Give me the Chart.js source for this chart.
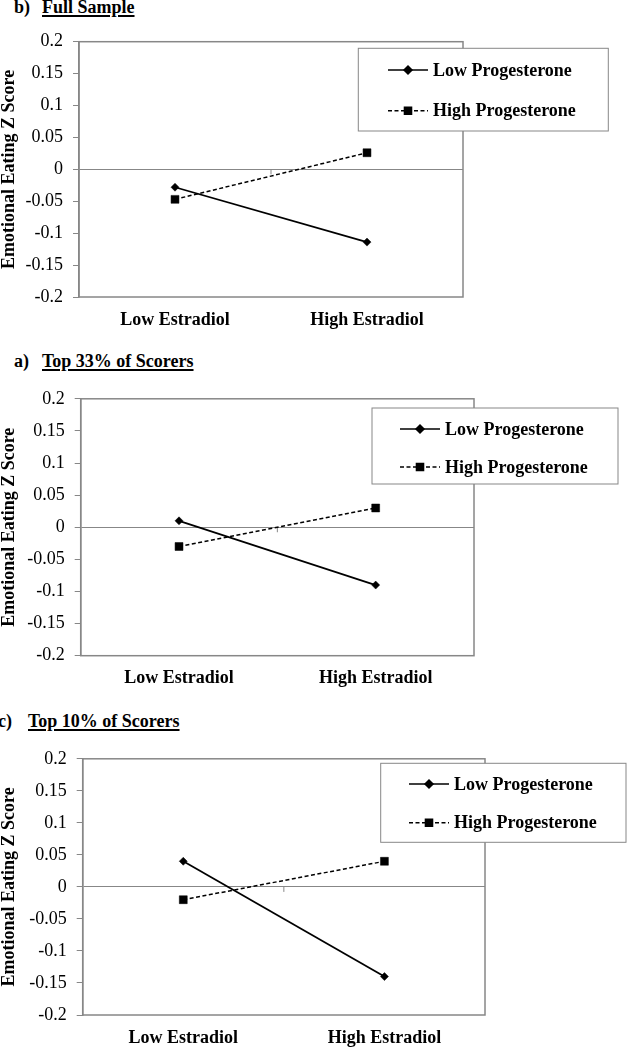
<!DOCTYPE html>
<html>
<head>
<meta charset="utf-8">
<script src="https://cdn.jsdelivr.net/npm/chart.js@4.4.1/dist/chart.umd.min.js"></script>
<style>
  body { margin: 0; background: #fff; width: 627px; height: 1048px; position: relative; overflow: hidden;
         font-family: "Liberation Serif", "Times New Roman", serif; }
  .panel { position: absolute; left: 0; }
  .title { position: absolute; font-weight: bold; font-size: 18px; line-height: 20px; white-space: nowrap; color: #000; }
  .title u { text-decoration-thickness: 1.5px; text-underline-offset: 2px; }
</style>
</head>
<body>
<script>
const CATEGORIES = ['Low Estradiol', 'High Estradiol'];
const SERIES_NAMES = ['Low Progesterone', 'High Progesterone'];
const Y_TICKS = [0.2, 0.15, 0.1, 0.05, 0, -0.05, -0.1, -0.15, -0.2];

// b) Full Sample
const FULL_LOW_PROG = [-0.028, -0.114];
const FULL_HIGH_PROG = [-0.047, 0.026];
// a) Top 33%
const TOP33_LOW_PROG = [0.01, -0.09];
const TOP33_HIGH_PROG = [-0.03, 0.03];
// c) Top 10%
const TOP10_LOW_PROG = [0.04, -0.14];
const TOP10_HIGH_PROG = [-0.02, 0.04];

const GRIS = '#878787';
const FONT = '"Liberation Serif", "Times New Roman", serif';
const W = 627;
const X_AXIS_H = 40;

const PANELS = [
  {
    tag: 'b)', titre: 'Full Sample', low: FULL_LOW_PROG, high: FULL_HIGH_PROG,
    tagX: 14, titreX: 42, titreTop: -3,
    top: 20, h: 330, plot: { l: 79, r: 463, t: 41.7, b: 297 }, catPad: 12.9,
    legende: { x: 358.3, y: 48.3, w: 250, h: 82.7, rows: [70, 110.7], lineX: 388 },
  },
  {
    tag: 'a)', titre: 'Top 33% of Scorers', low: TOP33_LOW_PROG, high: TOP33_HIGH_PROG,
    tagX: 14, titreX: 42, titreTop: 351,
    top: 378, h: 330, plot: { l: 80.7, r: 474, t: 395, b: 655.7 }, catPad: 11.5,
    legende: { x: 372, y: 408, w: 246, h: 76, rows: [429, 467], lineX: 400 },
  },
  {
    tag: 'c)', titre: 'Top 10% of Scorers', low: TOP10_LOW_PROG, high: TOP10_HIGH_PROG,
    tagX: -2, titreX: 28, titreTop: 711,
    top: 738, h: 310, plot: { l: 82.7, r: 485, t: 756, b: 1015 }, catPad: 12.2,
    legende: { x: 380.7, y: 763.3, w: 245.3, h: 79, rows: [784, 822.7], lineX: 409 },
  },
];

// cadre gris, ligne du zéro et petite graduation au centre
const cadrePlugin = {
  id: 'cadre',
  beforeDatasetsDraw(chart) {
    const { ctx, chartArea: a, scales } = chart;
    ctx.save();
    ctx.strokeStyle = GRIS;
    ctx.lineWidth = 1.5;
    ctx.strokeRect(a.left, a.top, a.right - a.left, a.bottom - a.top);
    const x = scales.x.getPixelForValue(0.5);
    const y0 = scales.y.getPixelForValue(0);
    ctx.lineWidth = 1;
    ctx.beginPath();
    ctx.moveTo(x, y0);
    ctx.lineTo(x, y0 + 5);
    ctx.stroke();
    ctx.restore();
  },
};

// légende encadrée, dessinée par-dessus le cadre
const legendePlugin = {
  id: 'legendeBox',
  afterDraw(chart, args, opts) {
    const { ctx } = chart;
    const L = opts.box;
    const off = opts.offset;
    ctx.save();
    ctx.fillStyle = '#fff';
    ctx.fillRect(L.x, L.y - off, L.w, L.h);
    ctx.strokeStyle = GRIS;
    ctx.lineWidth = 1;
    ctx.strokeRect(L.x, L.y - off, L.w, L.h);
    chart.data.datasets.forEach((ds, i) => {
      const y = L.rows[i] - off;
      ctx.strokeStyle = '#000';
      ctx.lineWidth = 1.5;
      ctx.setLineDash(ds.borderDash || []);
      ctx.beginPath();
      ctx.moveTo(L.lineX, y);
      ctx.lineTo(L.lineX + 40, y);
      ctx.stroke();
      ctx.setLineDash([]);
      ctx.fillStyle = '#000';
      Chart.helpers.drawPoint(ctx, {
        pointStyle: ds.pointStyle,
        radius: ds.pointStyle === 'rect' ? 5 : 4,
        borderWidth: 0.5,
        rotation: 0,
      }, L.lineX + 20, y);
      ctx.font = 'bold 18px ' + FONT;
      ctx.textBaseline = 'middle';
      ctx.textAlign = 'left';
      ctx.fillText(SERIES_NAMES[i], L.lineX + 45, y + 1);
    });
    ctx.restore();
  },
};

function creerPanneau(p) {
  const t1 = document.createElement('div');
  t1.className = 'title';
  t1.style.left = p.tagX + 'px';
  t1.style.top = p.titreTop + 'px';
  t1.textContent = p.tag;
  document.body.appendChild(t1);

  const t2 = document.createElement('div');
  t2.className = 'title';
  t2.style.left = p.titreX + 'px';
  t2.style.top = p.titreTop + 'px';
  t2.innerHTML = '<u>' + p.titre + '</u>';
  document.body.appendChild(t2);

  const wrap = document.createElement('div');
  wrap.className = 'panel';
  wrap.style.top = p.top + 'px';
  const canvas = document.createElement('canvas');
  canvas.width = W;
  canvas.height = p.h;
  wrap.appendChild(canvas);
  document.body.appendChild(wrap);

  const padTop = p.plot.t - p.top;
  const padBottom = p.h - (p.plot.b - p.top) - X_AXIS_H;

  new Chart(canvas, {
    type: 'line',
    data: {
      labels: CATEGORIES,
      datasets: [
        {
          label: SERIES_NAMES[0], data: p.low,
          borderColor: '#000', backgroundColor: '#000', borderWidth: 1.75,
          pointStyle: 'rectRot', pointRadius: 4, pointBorderWidth: 0.5,
          pointBackgroundColor: '#000', pointBorderColor: '#000', tension: 0,
        },
        {
          label: SERIES_NAMES[1], data: p.high,
          borderColor: '#000', backgroundColor: '#000', borderWidth: 1.5, borderDash: [4, 2.5],
          pointStyle: 'rect', pointRadius: 5.6, pointBorderWidth: 0.5,
          pointBackgroundColor: '#000', pointBorderColor: '#000', tension: 0,
        },
      ],
    },
    options: {
      responsive: false,
      animation: false,
      devicePixelRatio: 1,
      layout: { padding: { left: 0, top: padTop, right: W - p.plot.r, bottom: padBottom } },
      plugins: {
        legend: { display: false },
        tooltip: { enabled: false },
        legendeBox: { box: p.legende, offset: p.top },
      },
      scales: {
        x: {
          type: 'category',
          offset: true,
          grid: { display: false, drawTicks: false },
          border: { display: false },
          ticks: { color: '#000', padding: p.catPad, font: { family: FONT, size: 18, weight: 'bold' }, maxRotation: 0 },
          afterFit: (s) => { s.height = X_AXIS_H; },
        },
        y: {
          min: -0.2,
          max: 0.2,
          afterBuildTicks: (s) => { s.ticks = Y_TICKS.map((v) => ({ value: v })); },
          grid: {
            color: (c) => (c.tick && c.tick.value === 0 ? GRIS : 'rgba(0,0,0,0)'),
            tickColor: GRIS,
            tickLength: 6,
            lineWidth: 1,
          },
          border: { color: GRIS, width: 1.5 },
          ticks: {
            color: '#000', padding: 10,
            font: { family: FONT, size: 18, weight: 'normal' },
            callback: (v) => String(v),
          },
          title: {
            display: true,
            text: 'Emotional Eating Z Score',
            color: '#000',
            padding: { top: 0, bottom: 0 },
            font: { family: FONT, size: 18, weight: 'bold', lineHeight: 1 },
          },
          afterFit: (s) => { s.width = p.plot.l; },
        },
      },
    },
    plugins: [cadrePlugin, legendePlugin],
  });
}

PANELS.forEach(creerPanneau);
</script>
</body>
</html>
